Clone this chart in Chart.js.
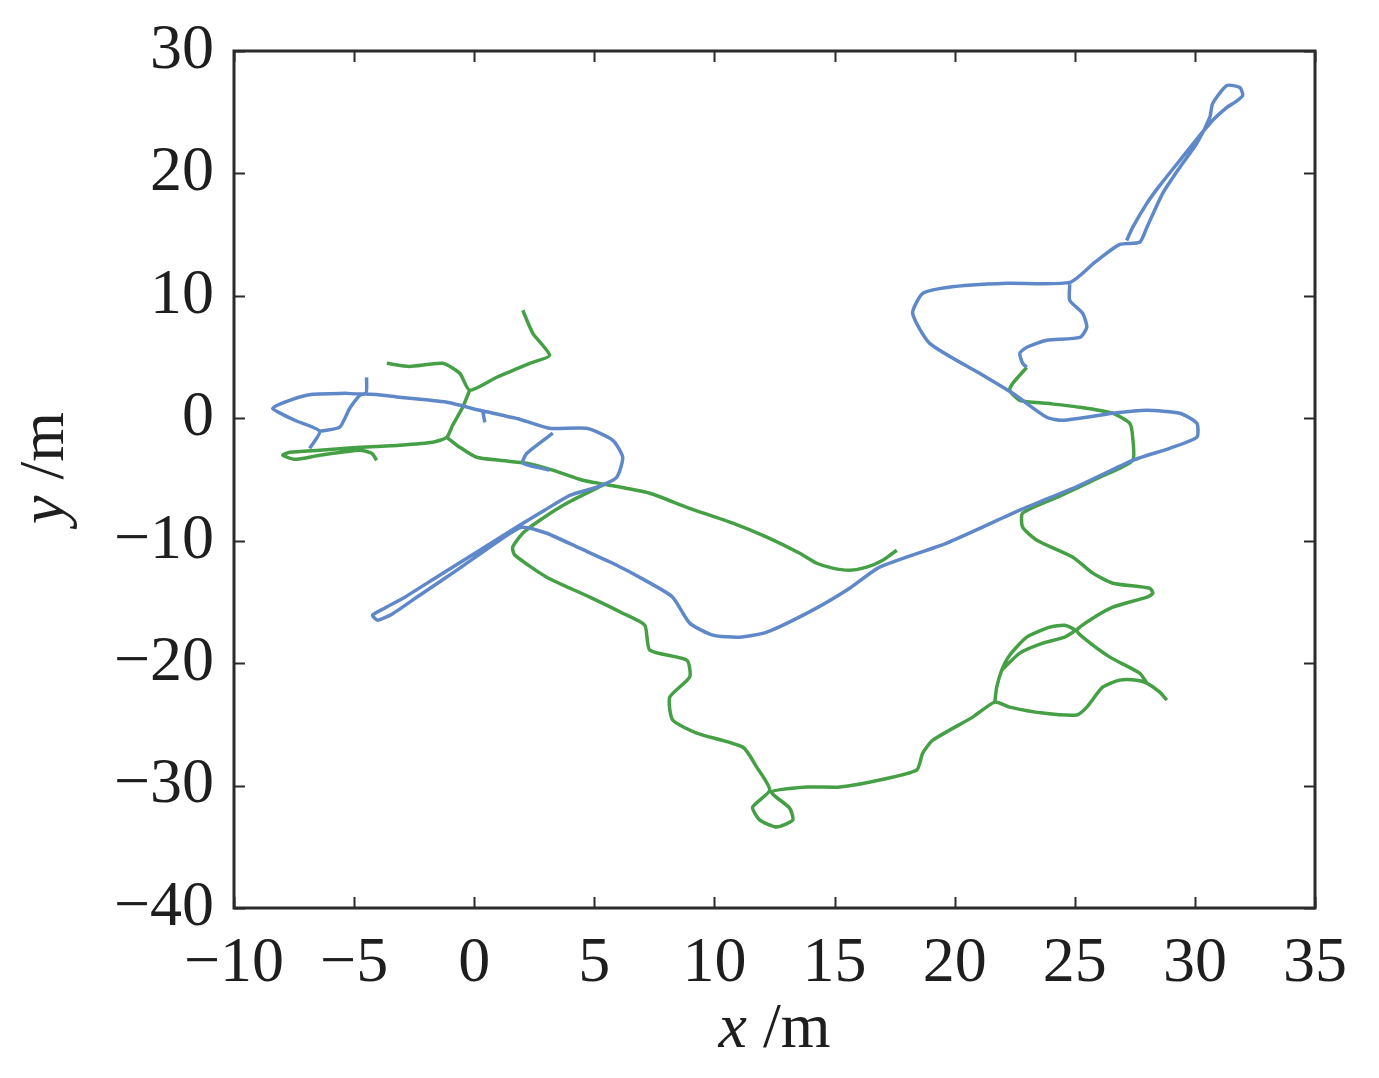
<!DOCTYPE html>
<html>
<head>
<meta charset="utf-8">
<script src="https://cdn.jsdelivr.net/npm/chart.js@4.4.1/dist/chart.umd.min.js"></script>
<style>
html,body{margin:0;padding:0;background:#fff;}
canvas{display:block;}
</style>
</head>
<body>
<canvas id="c" width="1379" height="1078"></canvas>
<script>
// Tick labels
const xTicks = [-10, -5, 0, 5, 10, 15, 20, 25, 30, 35];
const yTicks = [-40, -30, -20, -10, 0, 10, 20, 30];
const xTitle = ['x', ' /m'];
const yTitle = ['y', ' /m'];

// Blue trajectory (null = pen up)
const blueX = [-4.48,-4.52,-5.39,-6.72,-7.68,-8.39,-7.47,-6.43,-6.85,null,
  -6.43,-5.60,-5.18,-4.68,-3.10,-1.14,0.23,1.89,3.14,4.68,5.77,6.18,5.93,5.10,3.98,2.93,1.89,0.23,-1.44,-2.89,-3.73,-4.23,-4.02,-3.43,-2.27,-0.60,1.06,1.98,
  3.02,4.39,5.77,7.10,8.26,8.97,9.93,11.05,12.18,14.09,15.63,16.88,19.67,22.71,25.21,27.41,28.95,30.08,30.08,29.37,28.00,26.58,24.50,23.83,22.42,21.04,18.96,18.25,18.67,19.67,22.17,24.79,
  25.83,26.87,27.70,28.00,28.66,29.37,30.08,30.62,30.74,31.33,31.87,31.99,31.66,31.33,30.62,29.37,28.54,28.00,27.41,27.16,null,
  24.79,24.79,25.33,25.50,25.21,23.83,23.00,22.71,22.83,23.00,null,
  3.27,2.19,2.02,3.14,null,
  0.35,0.44];
const blueY = [3.35,2.04,2.04,1.96,1.47,0.82,-0.16,-1.06,-2.45,null,
  -1.06,-0.73,0.82,1.96,1.71,1.31,0.65,-0.08,-0.82,-0.82,-1.80,-3.18,-4.82,-5.63,-6.29,-7.51,-8.73,-10.78,-12.82,-14.61,-15.51,-16.08,-16.49,-16.00,-14.45,-12.24,-9.96,-8.90,
  -9.39,-10.61,-11.84,-13.22,-14.61,-16.73,-17.71,-17.88,-17.47,-15.67,-13.88,-12.16,-10.20,-7.51,-5.47,-3.43,-2.45,-1.55,-0.41,0.41,0.65,0.41,-0.16,0.08,2.04,3.67,6.12,8.57,10.20,10.69,11.02,11.10,
  12.73,14.20,14.37,15.59,18.37,20.49,22.45,24.57,25.71,27.18,27.02,26.37,25.80,25.39,24.08,21.06,19.02,17.55,15.59,14.53,null,
  10.94,9.63,8.57,7.43,6.61,6.37,5.80,5.31,4.49,4.16,null,
  -1.22,-2.86,-3.67,-4.24,null,
  0.65,-0.33];

// Green trajectory (null = pen up)
const greenX = [2.02,2.44,3.14,2.31,0.94,-0.19,-0.60,-1.31,-2.69,-3.64,null,
  -0.19,-0.48,-0.90,-1.14,-1.73,-3.10,-4.77,-6.43,-7.68,-7.97,-7.47,-6.43,-4.77,-4.27,-4.06,null,
  -1.14,-0.60,0.10,1.06,2.19,3.27,4.52,5.43,7.31,8.85,10.76,12.18,13.55,14.26,14.92,15.63,16.34,17.01,17.42,17.59,null,
  5.43,3.85,2.73,2.02,1.60,1.69,3.02,4.81,6.18,7.10,7.31,8.85,8.97,8.14,8.26,9.26,11.18,11.76,12.30,11.59,11.89,12.59,13.26,13.13,12.38,13.84,15.22,16.88,18.42,18.67,19.09,20.75,21.67,
  22.29,23.67,25.08,25.50,26.16,26.87,27.58,28.00,28.54,28.83,null,
  21.67,21.75,21.96,22.29,23.00,23.96,24.58,25.00,24.58,23.67,22.71,21.96,null,
  28.00,27.70,26.46,25.33,25.08,25.62,26.58,28.00,28.25,28.12,26.58,25.75,24.92,23.42,22.83,22.83,24.37,26.04,27.41,27.41,27.29,26.58,25.21,23.83,22.71,22.29,22.42,23.00];
const greenY = [8.82,6.94,5.14,4.49,3.35,2.29,3.67,4.49,4.24,4.49,null,
  2.29,0.90,-0.57,-1.55,-1.96,-2.20,-2.37,-2.61,-2.78,-3.02,-3.35,-3.02,-2.61,-2.86,-3.43,null,
  -1.55,-2.37,-3.18,-3.43,-3.67,-4.24,-5.06,-5.39,-6.12,-7.27,-8.57,-9.71,-11.02,-11.84,-12.24,-12.41,-12.16,-11.59,-11.02,-10.78,null,
  -5.39,-6.94,-8.33,-9.39,-10.53,-11.18,-12.98,-14.61,-15.92,-16.90,-18.94,-19.75,-21.14,-22.78,-24.65,-25.71,-26.86,-28.49,-30.37,-31.76,-32.82,-33.39,-32.82,-31.84,-30.53,-30.12,-30.12,-29.55,-28.73,-27.35,-26.29,-24.41,-23.18,
  -23.59,-24.08,-24.24,-23.59,-21.96,-21.39,-21.39,-21.63,-22.37,-23.02,null,
  -23.18,-21.96,-20.57,-19.35,-17.88,-17.06,-16.90,-17.31,-17.88,-18.37,-19.18,-20.57,null,
  -21.63,-20.82,-19.51,-17.88,-17.31,-16.49,-15.43,-14.61,-14.29,-13.88,-13.47,-12.65,-11.35,-9.96,-8.90,-7.75,-6.37,-4.82,-3.43,-1.55,-0.41,0.41,0.90,1.22,1.47,2.29,2.86,4.16];

const toPts = (xs, ys) => xs.map((x, i) => (x === null ? {x: null, y: null} : {x: x, y: ys[i]}));

const FONT = 'Liberation Serif';
const AX = '#2b2b2b';

const framePlugin = {
  id: 'frame',
  afterDraw(chart) {
    const ctx = chart.ctx;
    const a = chart.chartArea;
    const xs = chart.scales.x, ys = chart.scales.y;
    ctx.save();
    ctx.strokeStyle = AX;
    ctx.lineWidth = 2;
    const tl = 11;
    ctx.beginPath();
    xTicks.forEach(v => {
      const p = Math.round(xs.getPixelForValue(v)) + 0.5;
      ctx.moveTo(p, a.bottom); ctx.lineTo(p, a.bottom - tl);
      ctx.moveTo(p, a.top); ctx.lineTo(p, a.top + tl);
    });
    yTicks.forEach(v => {
      const p = Math.round(ys.getPixelForValue(v)) + 0.5;
      ctx.moveTo(a.left, p); ctx.lineTo(a.left + tl, p);
      ctx.moveTo(a.right, p); ctx.lineTo(a.right - tl, p);
    });
    ctx.stroke();
    ctx.lineWidth = 3;
    ctx.strokeRect(a.left, a.top, a.right - a.left, a.bottom - a.top);
    // axis titles: italic variable + upright unit
    ctx.fillStyle = '#1e1e1e';
    ctx.textBaseline = 'middle';
    const drawTitle = (parts, cx, cy, rot) => {
      ctx.save();
      ctx.translate(cx, cy);
      ctx.rotate(rot);
      ctx.font = 'italic 64px "' + FONT + '"';
      const w1 = ctx.measureText(parts[0]).width;
      ctx.font = '64px "' + FONT + '"';
      const w2 = ctx.measureText(parts[1]).width;
      let x0 = -(w1 + w2) / 2;
      ctx.textAlign = 'left';
      ctx.font = 'italic 64px "' + FONT + '"';
      ctx.fillText(parts[0], x0, 0);
      ctx.font = '64px "' + FONT + '"';
      ctx.fillText(parts[1], x0 + w1, 0);
      ctx.restore();
    };
    drawTitle(xTitle, (a.left + a.right) / 2, 1030, 0);
    drawTitle(yTitle, 46, 468, -Math.PI / 2);
    ctx.restore();
  }
};

new Chart(document.getElementById('c'), {
  type: 'scatter',
  data: {
    datasets: [
      {data: toPts(blueX, blueY), showLine: true, borderColor: '#5f88c8', borderWidth: 3.5, pointRadius: 0, tension: 0.2, spanGaps: false},
      {data: toPts(greenX, greenY), showLine: true, borderColor: '#45a045', borderWidth: 3.5, pointRadius: 0, tension: 0.2, spanGaps: false}
    ]
  },
  options: {
    responsive: false,
    animation: false,
    devicePixelRatio: 1,
    layout: {padding: {left: 0, top: 51, right: 64, bottom: 0}},
    plugins: {legend: {display: false}, tooltip: {enabled: false}},
    scales: {
      x: {
        type: 'linear', min: -10, max: 35,
        afterBuildTicks: s => { s.ticks = xTicks.map(v => ({value: v})); },
        afterFit: s => { s.height = 170; s.paddingLeft = 0; s.paddingRight = 0; },
        grid: {display: false, drawTicks: false},
        border: {display: false},
        ticks: {
          color: '#1e1e1e', padding: 18,
          font: {family: FONT, size: 64},
          callback: v => String(v).replace('-', '\u2212')
        }
      },
      y: {
        type: 'linear', min: -40, max: 30,
        afterBuildTicks: s => { s.ticks = yTicks.map(v => ({value: v})); },
        afterFit: s => { s.width = 234; s.paddingTop = 0; s.paddingBottom = 0; },
        grid: {display: false, drawTicks: false},
        border: {display: false},
        ticks: {
          color: '#1e1e1e', padding: 20,
          font: {family: FONT, size: 64},
          callback: v => String(v).replace('-', '\u2212')
        }
      }
    }
  },
  plugins: [framePlugin]
});
</script>
</body>
</html>
